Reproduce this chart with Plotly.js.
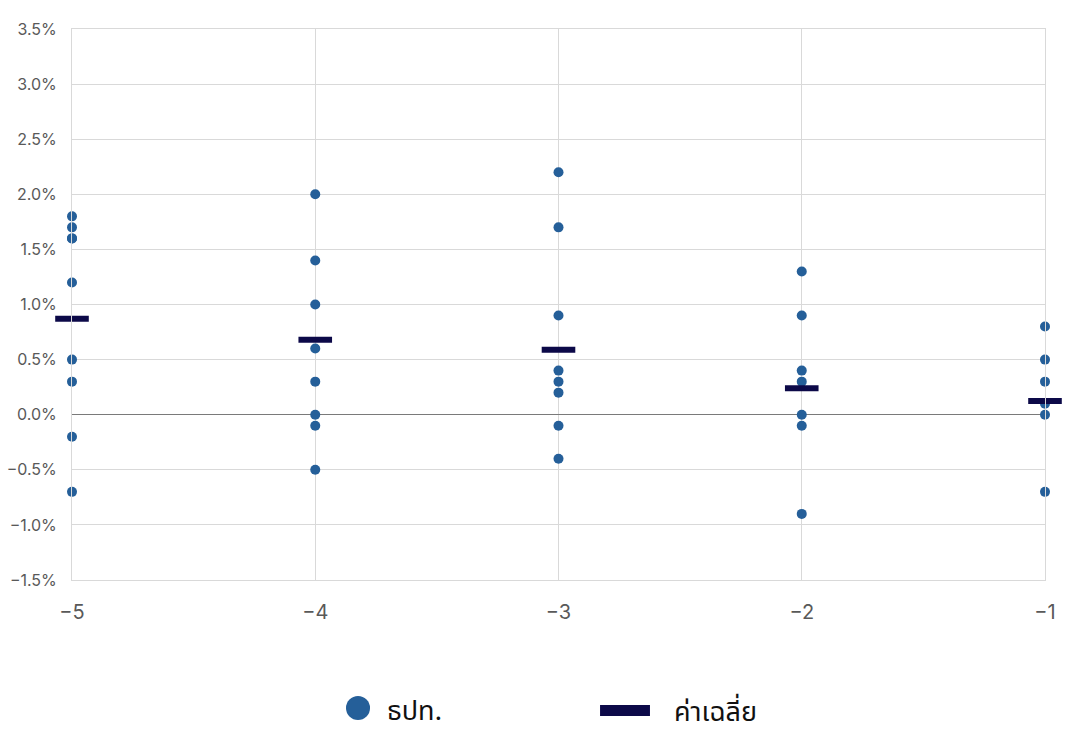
<!DOCTYPE html>
<html>
<head>
<meta charset="utf-8">
<script src="https://cdn.plot.ly/plotly-3.0.1.min.js"></script>
<style>html,body{margin:0;padding:0;background:#fff;}#chart{width:1076px;height:743px;}</style>
</head>
<body>
<div id="chart"></div>
<script>
// Years relative (x categories)
const years = [-5, -4, -3, -2, -1];
// Individual observations per year (percent)
const obsYm5 = [1.8, 1.7, 1.6, 1.6, 1.2, 0.5, 0.3, -0.2, -0.7];
const obsYm4 = [2.0, 1.4, 1.0, 0.6, 0.3, 0.0, -0.1, -0.5];
const obsYm3 = [2.2, 1.7, 0.9, 0.4, 0.3, 0.2, -0.1, -0.4];
const obsYm2 = [1.3, 0.9, 0.4, 0.3, 0.0, -0.1, -0.9];
const obsYm1 = [0.8, 0.5, 0.3, 0.1, 0.0, -0.7];
// Averages (percent)
const averages = [0.87, 0.68, 0.59, 0.24, 0.125];
const seriesNames = ['ธปท.', 'ค่าเฉลี่ย'];
const yTicks = [-1.5, -1.0, -0.5, 0.0, 0.5, 1.0, 1.5, 2.0, 2.5, 3.0, 3.5];
const yTickLabels = ['\u22121.5%', '\u22121.0%', '\u22120.5%', '0.0%', '0.5%', '1.0%', '1.5%', '2.0%', '2.5%', '3.0%', '3.5%'];

const groups = [obsYm5, obsYm4, obsYm3, obsYm2, obsYm1];
const px = [], py = [];
groups.forEach((g, i) => g.forEach(v => { px.push(years[i]); py.push(v); }));

const font = "Inter, 'Noto Sans', 'Noto Sans Thai', sans-serif";
const dotColor = '#255f99';
const avgColor = '#0c0948';

const traces = [
  {
    type: 'scatter', mode: 'markers', name: seriesNames[0],
    x: px, y: py, cliponaxis: false, showlegend: false,
    marker: {color: dotColor, size: 10, symbol: 'circle'}
  },
  {
    type: 'scatter', mode: 'markers', name: seriesNames[1],
    x: years, y: averages, cliponaxis: false, showlegend: false,
    marker: {symbol: 'line-ew', size: 24, color: avgColor, line: {color: avgColor, width: 6}}
  }
];

// Custom legend (paper coordinates)
const shapes = [
  {type: 'circle', xref: 'paper', yref: 'paper', x0: 0.2816, x1: 0.3063, y0: -0.2541, y1: -0.2105,
   fillcolor: dotColor, line: {width: 0}},
  {type: 'rect', xref: 'paper', yref: 'paper', x0: 0.5427, x1: 0.594, y0: -0.2468, y1: -0.2269,
   fillcolor: avgColor, line: {width: 0}}
];
const annotations = [
  {xref: 'paper', yref: 'paper', x: 0.3217, y: -0.236, xanchor: 'left', yanchor: 'middle',
   text: seriesNames[0], showarrow: false, font: {size: 27, color: '#111', family: font}},
  {xref: 'paper', yref: 'paper', x: 0.6166, y: -0.236, xanchor: 'left', yanchor: 'middle',
   text: seriesNames[1], showarrow: false, font: {size: 27, color: '#111', family: font}}
];

const layout = {
  width: 1076, height: 743,
  margin: {l: 72, r: 31, t: 29, b: 163},
  paper_bgcolor: '#fff', plot_bgcolor: '#fff',
  font: {family: font, color: '#595959', size: 16},
  showlegend: false,
  shapes: shapes,
  annotations: annotations,
  xaxis: {
    range: [-5, -1], tickvals: years, ticks: '',
    showgrid: true, gridcolor: '#d9d9d9', gridwidth: 1,
    zeroline: false, showline: true, mirror: true, linecolor: '#d9d9d9', linewidth: 1,
    tickfont: {size: 20, color: '#595959'}, ticklabelstandoff: 14
  },
  yaxis: {
    range: [-1.5, 3.5], tickvals: yTicks, ticktext: yTickLabels,
    showgrid: true, gridcolor: '#d9d9d9', gridwidth: 1,
    zeroline: true, zerolinecolor: '#7a7a7a', zerolinewidth: 1,
    showline: true, mirror: true, linecolor: '#d9d9d9', linewidth: 1,
    tickfont: {size: 16, color: '#595959'}, ticklabelstandoff: 11
  }
};

Plotly.newPlot('chart', traces, layout, {displayModeBar: false, staticPlot: true});
</script>
</body>
</html>
